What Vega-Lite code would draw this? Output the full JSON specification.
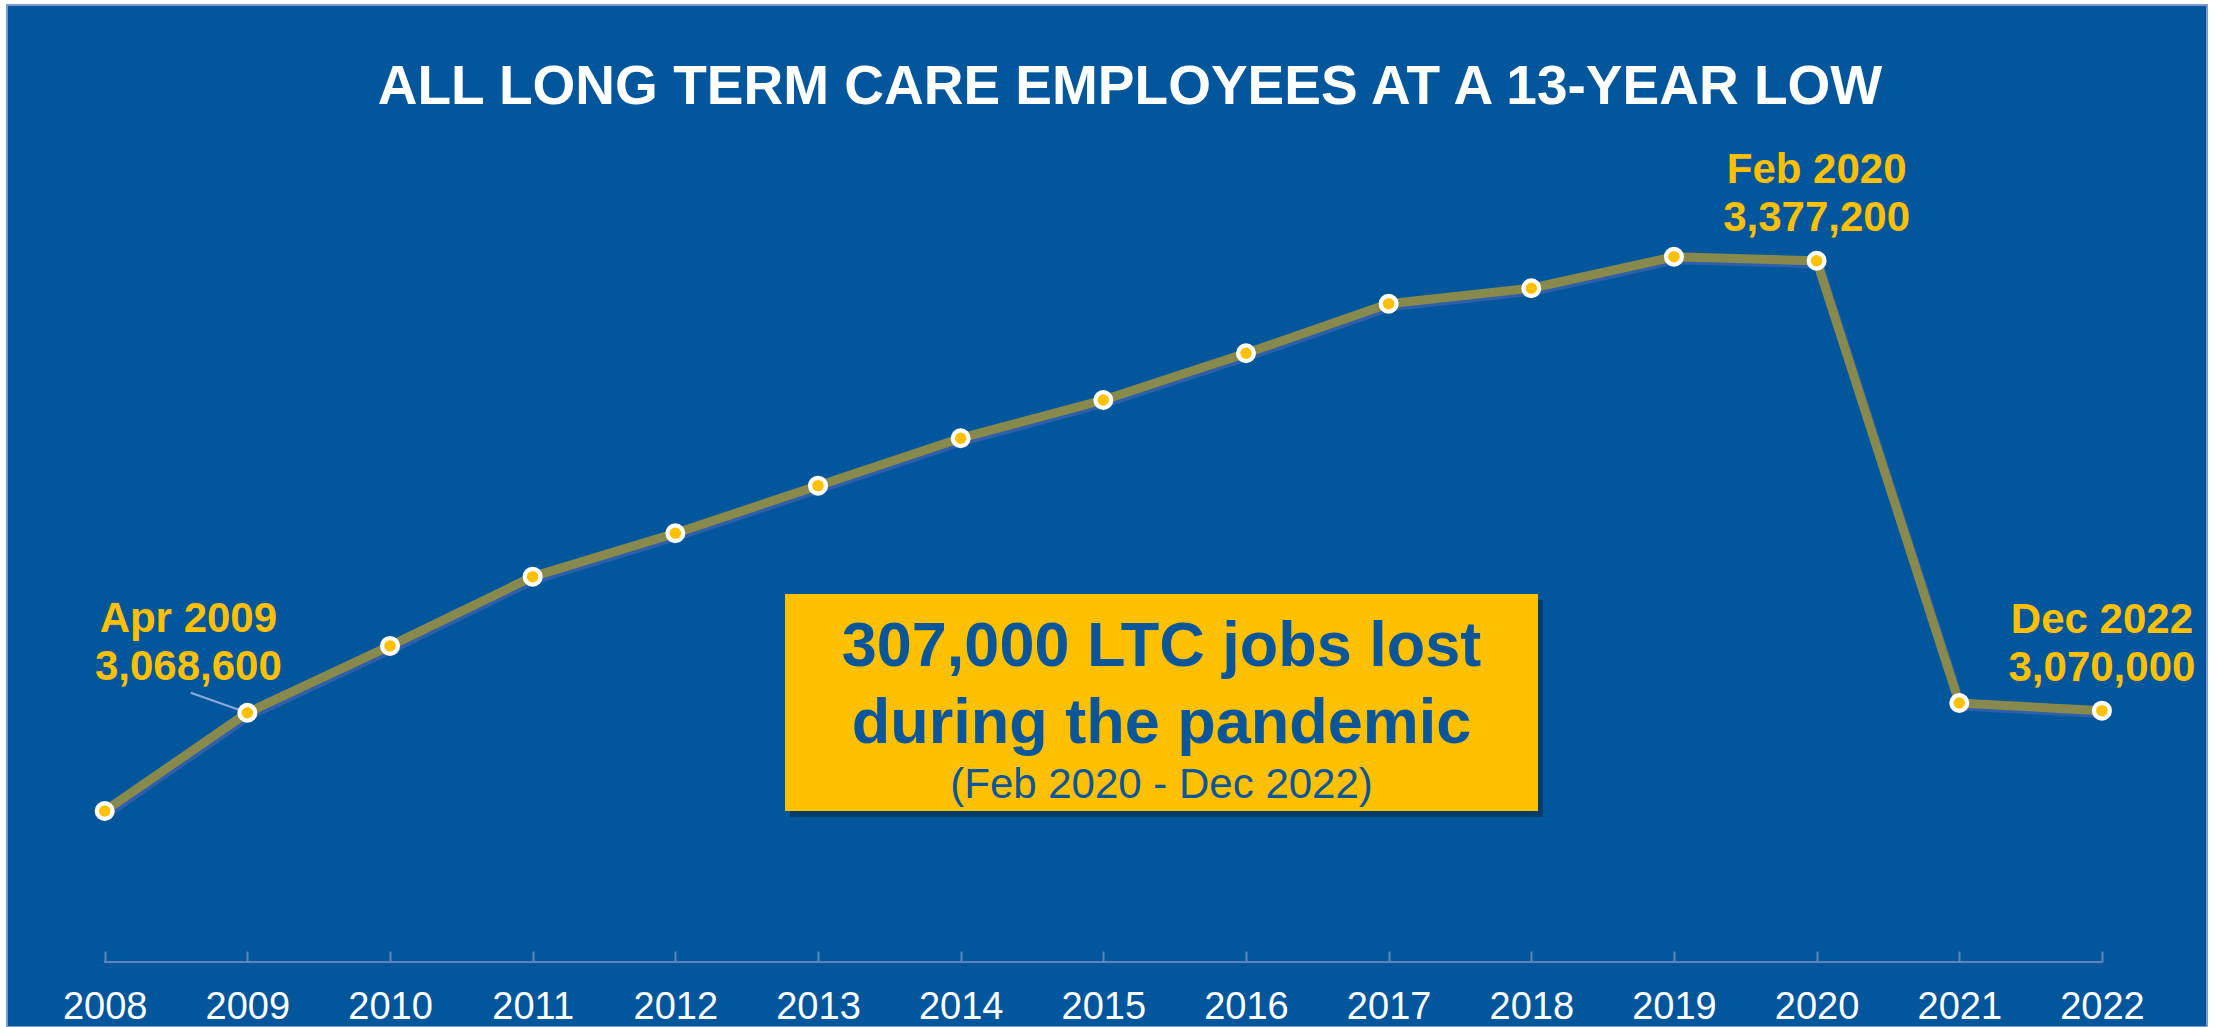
{
  "$schema": "https://vega.github.io/schema/vega-lite/v6.json",
  "width": 2200,
  "height": 1022,
  "autosize": {"type": "none"},
  "padding": {"left": 7, "top": 5, "right": 12, "bottom": 0},
  "background": "white",
  "config": {"view": {"fill": "#02569B", "stroke": "#7C9AD2", "strokeWidth": 2}},
  "title": {
    "text": "ALL LONG TERM CARE EMPLOYEES AT A 13-YEAR LOW",
    "font": "Liberation Sans",
    "fontSize": 55,
    "fontWeight": "bold",
    "color": "white",
    "anchor": "middle",
    "frame": "group",
    "baseline": "alphabetic",
    "offset": -98,
    "dx": 23,
    "dy": 56
  },
  "datasets": {
    "jobs": [
      {"year": 2008, "value": 3001500},
      {"year": 2009, "value": 3068600},
      {"year": 2010, "value": 3114200},
      {"year": 2011, "value": 3161500},
      {"year": 2012, "value": 3191100},
      {"year": 2013, "value": 3223600},
      {"year": 2014, "value": 3256000},
      {"year": 2015, "value": 3282100},
      {"year": 2016, "value": 3314000},
      {"year": 2017, "value": 3347800},
      {"year": 2018, "value": 3358400},
      {"year": 2019, "value": 3379900},
      {"year": 2020, "value": 3377200},
      {"year": 2021, "value": 3075200},
      {"year": 2022, "value": 3070000}
    ],
    "notes": [
      {"year": 2009, "value": 3068600, "text": "Apr 2009\n3,068,600", "side": "left"},
      {"year": 2020, "value": 3377200, "text": "Feb 2020\n3,377,200", "side": "center"},
      {"year": 2022, "value": 3070000, "text": "Dec 2022\n3,070,000", "side": "center"}
    ],
    "leader": [
      {"x1": 2008.603, "y1": 3082255, "x2": 2009, "y2": 3068600}
    ],
    "box": [
      {"x1": 2012.769, "x2": 2018.047, "top": 3149642, "bottom": 3001487, "mid": 2015.408,
       "head": "307,000 LTC jobs lost\nduring the pandemic", "sub": "(Feb 2020 - Dec 2022)"}
    ]
  },
  "layer": [
    {
      "data": {"name": "box"},
      "mark": {"type": "rect", "fill": "#06345F", "opacity": 0.75},
      "encoding": {
        "x": {"field": "x1", "type": "quantitative", "scale": {"domain": [2007.2802, 2022.7015], "nice": false, "zero": false}, "axis": null},
        "x2": {"field": "x2"},
        "y": {"field": "top", "type": "quantitative", "scale": {"domain": [2858110, 3555873], "nice": false, "zero": false}, "axis": null},
        "y2": {"field": "bottom"}
      }
    },
    {
      "data": {"name": "jobs"},
      "mark": {"type": "line", "color": "#2D5FAA", "strokeWidth": 9, "strokeJoin": "round", "strokeCap": "round"},
      "encoding": {
        "x": {"field": "year", "type": "quantitative", "scale": {"domain": [2007.3012, 2022.7225], "nice": false, "zero": false}, "axis": null},
        "y": {"field": "value", "type": "quantitative", "scale": {"domain": [2856062, 3553825], "nice": false, "zero": false}, "axis": null}
      }
    },
    {
      "layer": [
        {
          "data": {"name": "box"},
          "mark": {"type": "rect", "fill": "#FFC000"},
          "encoding": {
            "x": {"field": "x1", "type": "quantitative",
              "scale": {"domain": [2007.3152, 2022.7365], "nice": false, "zero": false},
              "axis": {
                "values": [2008, 2009, 2010, 2011, 2012, 2013, 2014, 2015, 2016, 2017, 2018, 2019, 2020, 2021, 2022],
                "format": "d", "domain": false, "grid": false, "ticks": true, "tickSize": 11,
                "tickColor": "#5A86BB", "tickWidth": 2, "labelFont": "Liberation Sans", "labelFontSize": 38,
                "labelColor": "white", "labelPadding": 56, "labelBaseline": "alphabetic", "offset": -76,
                "title": null, "labelFlush": false, "labelOverlap": false
              }
            },
            "x2": {"field": "x2"},
            "y": {"field": "top", "type": "quantitative", "scale": {"domain": [2854014, 3551777], "nice": false, "zero": false}, "axis": null},
            "y2": {"field": "bottom"}
          }
        },
        {
          "data": {"name": "box"},
          "mark": {"type": "text", "font": "Liberation Sans", "fontSize": 63, "fontWeight": "bold", "color": "#0A5699",
                   "align": "center", "baseline": "alphabetic", "dy": 72, "lineBreak": "\n", "lineHeight": 77},
          "encoding": {
            "x": {"field": "mid", "type": "quantitative"},
            "y": {"field": "top", "type": "quantitative", "axis": null},
            "text": {"field": "head"}
          }
        },
        {
          "data": {"name": "box"},
          "mark": {"type": "text", "font": "Liberation Sans", "fontSize": 42, "color": "#0A5699",
                   "align": "center", "baseline": "alphabetic", "dy": -13},
          "encoding": {
            "x": {"field": "mid", "type": "quantitative"},
            "y": {"field": "bottom", "type": "quantitative", "axis": null},
            "text": {"field": "sub"}
          }
        },
        {
          "data": {"name": "jobs"},
          "mark": {"type": "rule", "color": "#5A86BB", "strokeWidth": 2},
          "encoding": {
            "x": {"datum": 2008},
            "x2": {"datum": 2022},
            "y": {"datum": 2898392, "axis": null}
          }
        },
        {
          "data": {"name": "leader"},
          "mark": {"type": "rule", "color": "#8EA9DB", "strokeWidth": 2},
          "encoding": {
            "x": {"field": "x1", "type": "quantitative"},
            "x2": {"field": "x2"},
            "y": {"field": "y1", "type": "quantitative", "axis": null},
            "y2": {"field": "y2"}
          }
        },
        {
          "data": {"name": "jobs"},
          "mark": {"type": "line", "color": "#878A4C", "strokeWidth": 9, "strokeJoin": "round", "strokeCap": "round"},
          "encoding": {
            "x": {"field": "year", "type": "quantitative"},
            "y": {"field": "value", "type": "quantitative", "axis": null}
          }
        },
        {
          "data": {"name": "jobs"},
          "mark": {"type": "point", "filled": true, "fill": "#FFC000", "stroke": "white", "strokeWidth": 4.25, "size": 248, "opacity": 1},
          "encoding": {
            "x": {"field": "year", "type": "quantitative"},
            "y": {"field": "value", "type": "quantitative", "axis": null}
          }
        },
        {
          "data": {"name": "notes"},
          "transform": [{"filter": "datum.side === 'left'"}],
          "mark": {"type": "text", "font": "Liberation Sans", "fontSize": 42, "fontWeight": "bold", "color": "#FFC000",
                   "align": "center", "baseline": "alphabetic", "dx": -59, "dy": -81, "lineBreak": "\n", "lineHeight": 48},
          "encoding": {
            "x": {"field": "year", "type": "quantitative"},
            "y": {"field": "value", "type": "quantitative", "axis": null},
            "text": {"field": "text"}
          }
        },
        {
          "data": {"name": "notes"},
          "transform": [{"filter": "datum.side === 'center'"}],
          "mark": {"type": "text", "font": "Liberation Sans", "fontSize": 42, "fontWeight": "bold", "color": "#FFC000",
                   "align": "center", "baseline": "alphabetic", "dy": -78, "lineBreak": "\n", "lineHeight": 48},
          "encoding": {
            "x": {"field": "year", "type": "quantitative"},
            "y": {"field": "value", "type": "quantitative", "axis": null},
            "text": {"field": "text"}
          }
        }
      ]
    }
  ],
  "resolve": {"scale": {"x": "independent", "y": "independent"}}
}
